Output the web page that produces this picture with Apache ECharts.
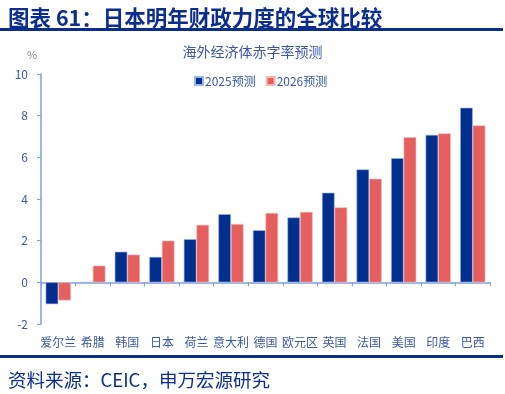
<!DOCTYPE html>
<html><head><meta charset="utf-8">
<script src="https://cdn.jsdelivr.net/npm/echarts@6/dist/echarts.min.js"></script>
<style>html,body{margin:0;padding:0;background:#fff}#c{width:505px;height:394px}</style>
</head><body><div id="c"></div>
<script>
const categories = ['爱尔兰','希腊','韩国','日本','荷兰','意大利','德国','欧元区','英国','法国','美国','印度','巴西'];
const s2025 = [-1.05, 0, 1.47, 1.22, 2.07, 3.27, 2.5, 3.11, 4.3, 5.42, 5.96, 7.08, 8.38];
const s2026 = [-0.87, 0.8, 1.33, 2.0, 2.76, 2.8, 3.33, 3.38, 3.6, 4.97, 6.97, 7.15, 7.53];
const yTicks = {min: -2, max: 10, interval: 2};
const seriesNames = ['2025预测', '2026预测'];

const navy = '#002F8E', red = '#E55F5F', axisC = '#7DA0E0', txt = '#3A58A6', dark = '#0B2E8C';
const font = '"Noto Sans CJK SC", sans-serif';
const chart = echarts.init(document.getElementById('c'), null, {renderer: 'canvas'});
chart.setOption({
  animation: false,
  title: [
    {text: '图表 61：日本明年财政力度的全球比较', left: 3, top: 2, textStyle: {fontFamily: font, fontSize: 21.5, fontWeight: 'bold', color: dark}},
    {text: '海外经济体赤字率预测', left: 'center', top: 40, textStyle: {fontFamily: font, fontSize: 14, fontWeight: 'normal', color: txt}},
    {text: '%', left: 22, top: 44, textStyle: {fontFamily: font, fontSize: 11, fontWeight: 'normal', color: '#888'}},
    {text: '资料来源：CEIC，申万宏源研究', left: 3, top: 366, textStyle: {fontFamily: font, fontSize: 18.5, fontWeight: 'normal', color: dark}}
  ],
  graphic: [
    {type: 'rect', shape: {x: 0, y: 28, width: 503, height: 3}, style: {fill: dark}},
    {type: 'rect', shape: {x: 0, y: 355, width: 503, height: 3}, style: {fill: dark}}
  ],
  legend: {
    top: 70, left: 189, itemWidth: 8, itemHeight: 8, itemGap: 10, icon: 'rect',
    textStyle: {fontFamily: font, fontSize: 12, color: txt, padding: [0,0,0,-3]},
    data: seriesNames
  },
  grid: {left: 41, right: 15, top: 74, bottom: 70},
  xAxis: {
    type: 'category', data: categories,
    axisLine: {onZero: true, lineStyle: {color: axisC, width: 1.5}},
    axisTick: {show: true, length: 4, lineStyle: {color: axisC}},
    axisLabel: {margin: 12, fontFamily: font, fontSize: 12, color: txt, interval: 0}
  },
  yAxis: {
    type: 'value', min: yTicks.min, max: yTicks.max, interval: yTicks.interval,
    splitLine: {show: false},
    axisLine: {show: true, lineStyle: {color: axisC, width: 1.5}},
    axisTick: {show: true, length: 4, lineStyle: {color: axisC}},
    axisLabel: {margin: 13, fontFamily: font, fontSize: 12, color: txt}
  },
  series: [
    {name: seriesNames[0], type: 'bar', data: s2025, barGap: '0%', barCategoryGap: '27%',
     itemStyle: {color: navy, borderColor: '#9db4e6', borderWidth: 0.6}},
    {name: seriesNames[1], type: 'bar', data: s2026,
     itemStyle: {color: red, borderColor: '#f5b8b8', borderWidth: 0.6}}
  ]
});
</script></body></html>
